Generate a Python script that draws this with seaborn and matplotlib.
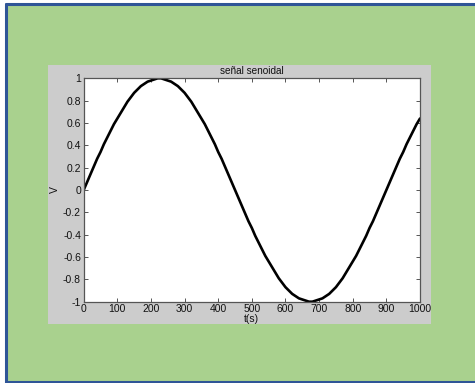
import numpy as np
import pandas as pd
import matplotlib
matplotlib.use("Agg")
import matplotlib.pyplot as plt
from matplotlib.patches import Rectangle
from matplotlib.lines import Line2D
import seaborn as sns

# values, one every 10 s
t_values = list(range(0, 1001, 10))
v_values = [0.00, 0.07, 0.14, 0.21, 0.28, 0.34, 0.41, 0.47, 0.53, 0.59,
            0.64, 0.69, 0.74, 0.79, 0.83, 0.87, 0.90, 0.93, 0.95, 0.97,
            0.98, 0.99, 1.00, 1.00, 0.99, 0.98, 0.97, 0.95, 0.93, 0.90,
            0.87, 0.83, 0.79, 0.74, 0.69, 0.64, 0.59, 0.53, 0.47, 0.41,
            0.34, 0.28, 0.21, 0.14, 0.07, 0.00, -0.07, -0.14, -0.21, -0.28,
            -0.34, -0.41, -0.47, -0.53, -0.59, -0.64, -0.69, -0.74, -0.79, -0.83,
            -0.87, -0.90, -0.93, -0.95, -0.97, -0.98, -0.99, -1.00, -1.00, -0.99,
            -0.98, -0.97, -0.95, -0.93, -0.90, -0.87, -0.83, -0.79, -0.74, -0.69,
            -0.64, -0.59, -0.53, -0.47, -0.41, -0.34, -0.28, -0.21, -0.14, -0.07,
            0.00, 0.07, 0.14, 0.21, 0.28, 0.34, 0.41, 0.47, 0.53, 0.59,
            0.64]
x_ticks = list(range(0, 1001, 100))
y_ticks = [-1, -0.8, -0.6, -0.4, -0.2, 0, 0.2, 0.4, 0.6, 0.8, 1]
y_ticklabels = ["-1", "-0.8", "-0.6", "-0.4", "-0.2", "0", "0.2", "0.4", "0.6", "0.8", "1"]

df = pd.DataFrame({"t": t_values, "v": v_values})

sns.set_style("ticks")
plt.rcParams["font.family"] = ["Liberation Sans", "DejaVu Sans"]

W, H = 475, 383
fig = plt.figure(figsize=(W / 100, H / 100), dpi=100, facecolor="white")

# green slide background with blue frame (left, top, bottom only - cropped on the right)
fig.patches.append(Rectangle((6 / W, 0), 1, 1 - 4 / H, transform=fig.transFigure,
                             facecolor="#a9d18e", edgecolor="none", zorder=0))
frame = dict(transform=fig.transFigure, color="#2f5597", linewidth=2.2, zorder=1)
fig.lines.append(Line2D([6 / W, 6 / W], [0, 1 - 4 / H], **frame))
fig.lines.append(Line2D([6 / W, 1], [1 - 4 / H, 1 - 4 / H], **frame))
fig.lines.append(Line2D([6 / W, 1], [1.2 / H, 1.2 / H], **frame))
# grey figure panel
fig.patches.append(Rectangle((48 / W, 1 - 324 / H), (431 - 48) / W, (324 - 65) / H,
                             transform=fig.transFigure, facecolor="#cccccc",
                             edgecolor="none", zorder=2))

ax = fig.add_axes([83.7 / W, 1 - 301.7 / H, (420 - 83.7) / W, (301.7 - 78.3) / H], zorder=3)
ax.set_facecolor("white")

sns.lineplot(data=df, x="t", y="v", ax=ax, color="black", linewidth=1.9)

ax.set_xlim(0, 1000)
ax.set_ylim(-1, 1)
ax.set_xticks(x_ticks)
ax.set_yticks(y_ticks)
ax.set_yticklabels(y_ticklabels)
ax.tick_params(direction="in", length=3, width=0.7, color="#555555",
               labelsize=7.5, labelcolor="#111111", pad=2,
               top=True, right=True)
for s in ax.spines.values():
    s.set_visible(True)
    s.set_color("#555555")
    s.set_linewidth(0.9)

ax.set_title("señal senoidal", fontsize=7.2, pad=3, color="#111111")
ax.set_xlabel("t(s)", fontsize=7.5, labelpad=0, color="#111111")
ax.set_ylabel("V", fontsize=7.5, labelpad=2, color="#111111")

fig.savefig("out.png", dpi=100, facecolor=fig.get_facecolor())
